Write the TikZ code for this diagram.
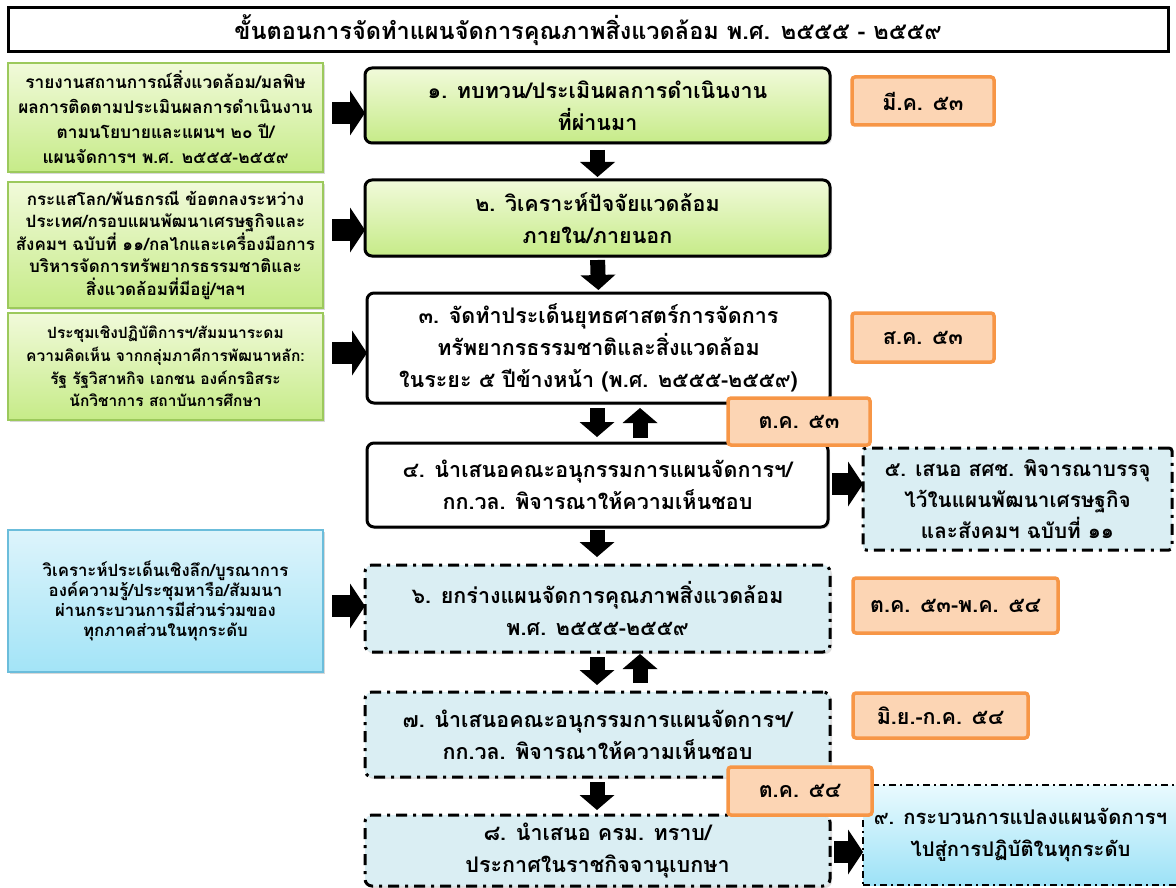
\documentclass[tikz,border=0pt]{standalone}
\usepackage{fontspec}
\newfontfamily\thai[Script=Thai]{Loma}
\usetikzlibrary{arrows.meta,shadows}
\definecolor{gtop}{HTML}{F1FADA}
\definecolor{gbot}{HTML}{C6EB88}
\definecolor{gbord}{HTML}{9CC95C}
\definecolor{btop}{HTML}{DDF4FB}
\definecolor{bbot}{HTML}{A3E4F7}
\definecolor{bbord}{HTML}{6BBDDB}
\definecolor{lblue}{HTML}{DAEEF3}
\definecolor{ctop}{HTML}{E9FAFE}
\definecolor{cbot}{HTML}{9DE2F7}
\definecolor{ofill}{HTML}{FCD5B4}
\definecolor{odraw}{HTML}{F79646}
\tikzset{
  base/.style={inner sep=0pt, outer sep=0pt, align=center, text=black},
  titlebox/.style={base, draw=black, line width=3pt, fill=white,
    font=\thai\bfseries\fontsize{23.5}{28}\selectfont},
  leftg/.style={base, draw=gbord, line width=1.3pt, top color=gtop, bottom color=gbot,
    drop shadow={shadow xshift=2pt,shadow yshift=-2pt,opacity=0.3}},
  leftb/.style={base, draw=bbord, line width=1.3pt, top color=btop, bottom color=bbot,
    drop shadow={shadow xshift=2pt,shadow yshift=-2pt,opacity=0.3},
    font=\thai\bfseries\fontsize{16.8}{20}\selectfont},
  cbox/.style={base, draw=black, line width=3pt, rounded corners=7pt,
    drop shadow={shadow xshift=2pt,shadow yshift=-2pt,opacity=0.25},
    font=\thai\bfseries\fontsize{21.5}{32}\selectfont},
  cgreen/.style={cbox, top color=gtop, bottom color=gbot},
  cwhite/.style={cbox, fill=white},
  dashdot/.style={dash pattern=on 11pt off 6pt on 3pt off 6pt},
  cblue/.style={cbox, fill=lblue, dashdot},
  rblue/.style={base, draw=black, line width=3pt, rounded corners=3pt, fill=lblue, dashdot,
    font=\thai\bfseries\fontsize{20.7}{31}\selectfont},
  rcyan/.style={base, draw=black, line width=1.6pt, top color=ctop, bottom color=cbot,
    dash pattern=on 7pt off 4pt on 2pt off 4pt,
    font=\thai\bfseries\fontsize{20.2}{32}\selectfont},
  datebox/.style={base, draw=odraw, line width=3.5pt, fill=ofill, rounded corners=3pt,
    font=\thai\bfseries\fontsize{21.5}{24}\selectfont},
  varrow/.style={line width=15pt, draw=black, -{Triangle[length=15pt,width=35pt,line width=0pt]}},
  harrow/.style={line width=22pt, draw=black, -{Triangle[length=15pt,width=45pt,line width=0pt]}},
}
\begin{document}
\begin{tikzpicture}[x=1pt,y=-1pt]
\useasboundingbox (0,0) rectangle (1176,888);
\fill[white] (0,0) rectangle (1176,888);

% title
\node[titlebox, minimum width=1160pt, minimum height=44pt] (title) at (588,30)
  {ขั้นตอนการจัดทำแผนจัดการคุณภาพสิ่งแวดล้อม พ.ศ. ๒๕๕๕ - ๒๕๕๙};

% left boxes
\node[leftg, minimum width=315pt, minimum height=109pt, font=\thai\bfseries\fontsize{17.3}{25}\selectfont] (L1) at (165.5,117.5)
  {รายงานสถานการณ์สิ่งแวดล้อม/มลพิษ\\ผลการติดตามประเมินผลการดำเนินงาน\\ตามนโยบายและแผนฯ ๒๐ ปี/\\แผนจัดการฯ พ.ศ. ๒๕๕๕-๒๕๕๙};
\node[leftg, minimum width=315pt, minimum height=126pt, font=\thai\bfseries\fontsize{17}{22.5}\selectfont] (L2) at (165.5,245)
  {กระแสโลก/พันธกรณี ข้อตกลงระหว่าง\\ประเทศ/กรอบแผนพัฒนาเศรษฐกิจและ\\สังคมฯ ฉบับที่ ๑๑/กลไกและเครื่องมือการ\\บริหารจัดการทรัพยากรธรรมชาติและ\\สิ่งแวดล้อมที่มีอยู่/ฯลฯ};
\node[leftg, minimum width=315pt, minimum height=107pt, font=\thai\bfseries\fontsize{15.5}{22.7}\selectfont] (L3) at (165.5,366.5)
  {ประชุมเชิงปฏิบัติการฯ/สัมมนาระดม\\ความคิดเห็น จากกลุ่มภาคีการพัฒนาหลัก:\\รัฐ รัฐวิสาหกิจ เอกชน องค์กรอิสระ\\นักวิชาการ สถาบันการศึกษา};
\node[leftb, minimum width=315pt, minimum height=142pt] (L4) at (165.5,601)
  {วิเคราะห์ประเด็นเชิงลึก/บูรณาการ\\องค์ความรู้/ประชุมหารือ/สัมมนา\\ผ่านกระบวนการมีส่วนร่วมของ\\ทุกภาคส่วนในทุกระดับ};

% centre boxes
\node[cgreen, minimum width=465pt, minimum height=75pt] (C1) at (597.5,105.5)
  {๑. ทบทวน/ประเมินผลการดำเนินงาน\\ที่ผ่านมา};
\node[cgreen, minimum width=465pt, minimum height=76pt] (C2) at (597.5,218)
  {๒. วิเคราะห์ปัจจัยแวดล้อม\\ภายใน/ภายนอก};
\node[cwhite, minimum width=463pt, minimum height=110pt] (C3) at (598.5,348)
  {๓. จัดทำประเด็นยุทธศาสตร์การจัดการ\\ทรัพยากรธรรมชาติและสิ่งแวดล้อม\\ในระยะ ๕ ปีข้างหน้า (พ.ศ. ๒๕๕๕-๒๕๕๙)};
\node[cwhite, minimum width=461pt, minimum height=84pt] (C4) at (597.5,485)
  {๔. นำเสนอคณะอนุกรรมการแผนจัดการฯ/\\กก.วล. พิจารณาให้ความเห็นชอบ};
\node[cblue, minimum width=465pt, minimum height=87pt] (C6) at (597.5,608.5)
  {๖. ยกร่างแผนจัดการคุณภาพสิ่งแวดล้อม\\พ.ศ. ๒๕๕๕-๒๕๕๙};
\node[cblue, minimum width=465pt, minimum height=85pt] (C7) at (597.5,734.5)
  {๗. นำเสนอคณะอนุกรรมการแผนจัดการฯ/\\กก.วล. พิจารณาให้ความเห็นชอบ};
\node[cblue, minimum width=465pt, minimum height=71pt] (C8) at (597.5,850.5)
  {๘. นำเสนอ ครม. ทราบ/\\ประกาศในราชกิจจานุเบกษา};

% right boxes
\node[rblue, minimum width=309pt, minimum height=102pt] (R5) at (1017.5,499)
  {๕. เสนอ สศช. พิจารณาบรรจุ\\ไว้ในแผนพัฒนาเศรษฐกิจ\\และสังคมฯ ฉบับที่ ๑๑};
\node[rcyan, minimum width=315pt, minimum height=100pt] (R9) at (1020.5,835)
  {๙. กระบวนการแปลงแผนจัดการฯ\\ไปสู่การปฏิบัติในทุกระดับ};

% arrows left -> centre
\draw[harrow, shorten <=9pt] (L1.east |- 0,113) -- (C1.west |- 0,113);
\draw[harrow, shorten <=9pt] (L2.east |- 0,230) -- (C2.west |- 0,230);
\draw[harrow, shorten <=9pt] (L3.east |- 0,353) -- (C3.west |- 0,353);
\draw[harrow, shorten <=9pt] (L4.east |- 0,606) -- (C6.west |- 0,606);

% vertical arrows
\draw[varrow, shorten <=7pt, shorten >=3pt] (C1.south) -- (C2.north);
\draw[varrow, shorten <=4pt, shorten >=3pt] (C2.south) -- (C3.north);
\draw[varrow, shorten <=5pt, shorten >=6pt] (C3.south -| 597,0) -- (C4.north -| 597,0);
\draw[varrow, shorten <=5pt, shorten >=5pt] (C4.north -| 640,0) -- (C3.south -| 640,0);
\draw[varrow, shorten <=3pt, shorten >=8pt] (C4.south -| 597,0) -- (C6.north -| 597,0);
\draw[varrow, shorten <=5pt, shorten >=7pt] (C6.south -| 597,0) -- (C7.north -| 597,0);
\draw[varrow, shorten <=9pt, shorten >=2pt] (C7.north -| 640,0) -- (C6.south -| 640,0);
\draw[varrow, shorten <=5pt, shorten >=5pt] (C7.south -| 597,0) -- (C8.north -| 597,0);

% arrows centre -> right
\draw[harrow, shorten <=4pt] (C4.east |- 0,484) -- (R5.west |- 0,484);
\draw[harrow, shorten <=4pt] (C8.east |- 0,852) -- (R9.west |- 0,852);

% date boxes
\node[datebox, minimum width=142pt, minimum height=48pt] (D1) at (923,101) {มี.ค. ๕๓};
\node[datebox, minimum width=142pt, minimum height=49pt] (D2) at (923,337.5) {ส.ค. ๕๓};
\node[datebox, minimum width=142pt, minimum height=47pt] (D3) at (799,421.5) {ต.ค. ๕๓};
\node[datebox, minimum width=205pt, minimum height=55pt] (D4) at (955.5,605.5) {ต.ค. ๕๓-พ.ค. ๕๔};
\node[datebox, minimum width=175pt, minimum height=45pt] (D5) at (940.5,715.5) {มิ.ย.-ก.ค. ๕๔};
\node[datebox, minimum width=144pt, minimum height=48pt] (D6) at (800,791) {ต.ค. ๕๔};
\end{tikzpicture}
\end{document}
